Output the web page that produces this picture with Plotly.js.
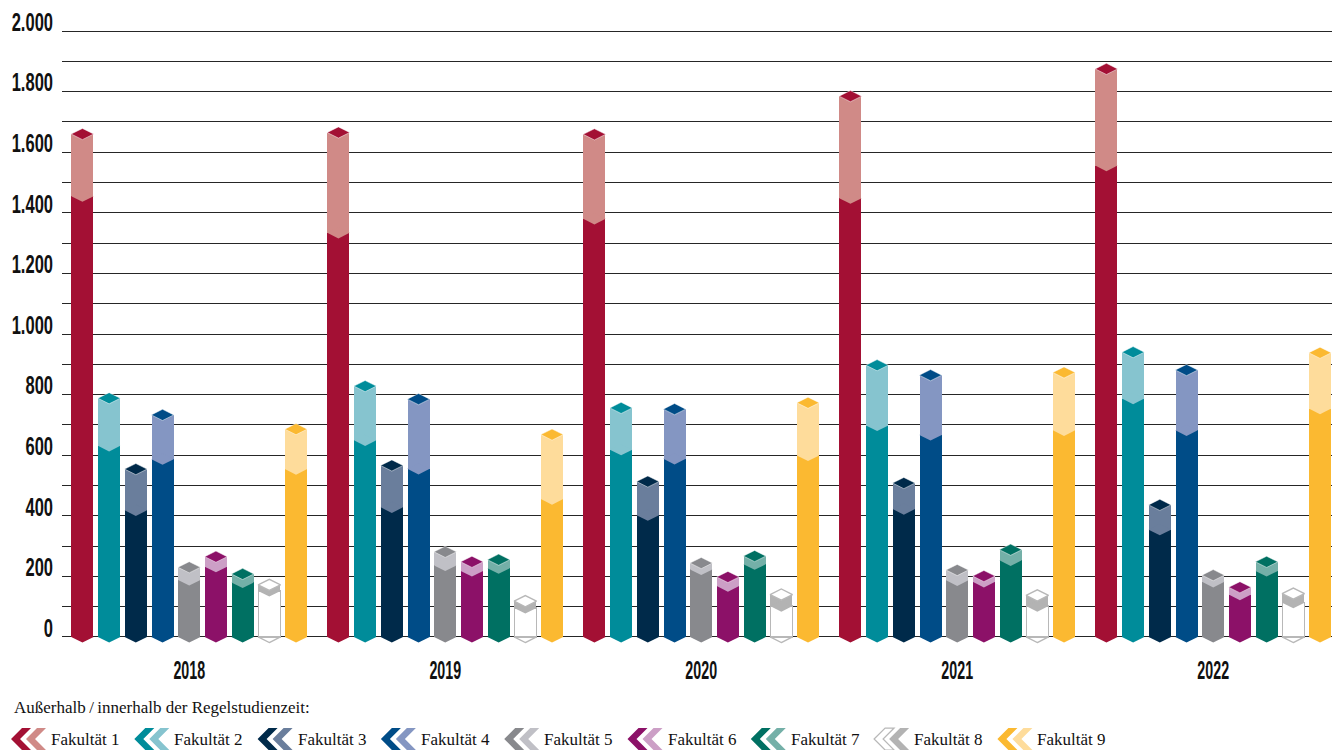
<!DOCTYPE html>
<html>
<head>
<meta charset="utf-8">
<script src="https://cdn.plot.ly/plotly-3.0.1.min.js"></script>
<style>
html,body{margin:0;padding:0;background:#fff;}
#chart{width:1332px;height:750px;}
</style>
</head>
<body>
<div id="chart"></div>
<script>
// ---------- data ----------
const years = ['2018', '2019', '2020', '2021', '2022'];
const faculties = ['Fakultät 1', 'Fakultät 2', 'Fakultät 3', 'Fakultät 4', 'Fakultät 5',
                   'Fakultät 6', 'Fakultät 7', 'Fakultät 8', 'Fakultät 9'];

// lower (dark) segment per faculty, 2018..2022
const fak1Lower = [1455, 1334, 1380, 1448, 1556];
const fak2Lower = [631, 649, 618, 698, 787];
const fak3Lower = [418, 428, 402, 422, 354];
const fak4Lower = [587, 555, 588, 667, 682];
const fak5Lower = [188, 236, 223, 187, 182];
const fak6Lower = [232, 218, 168, 182, 140];
const fak7Lower = [180, 227, 240, 253, 218];
const fak8Lower = [152, 96, 102, 102, 113];
const fak9Lower = [554, 455, 599, 682, 754];

// upper (light) segment per faculty, 2018..2022
const fak1Upper = [205, 331, 279, 337, 319];
const fak2Upper = [157, 179, 138, 199, 153];
const fak3Upper = [136, 138, 111, 86, 82];
const fak4Upper = [146, 230, 164, 197, 199];
const fak5Upper = [42, 45, 21, 34, 22];
const fak6Upper = [33, 30, 30, 19, 24];
const fak7Upper = [28, 28, 27, 35, 30];
const fak8Upper = [20, 22, 38, 35, 30];
const fak9Upper = [132, 213, 174, 191, 184];

const yTickValues = [0, 100, 200, 300, 400, 500, 600, 700, 800, 900, 1000,
                     1100, 1200, 1300, 1400, 1500, 1600, 1700, 1800, 1900, 2000];
const yTickLabels = ['0', '', '200', '', '400', '', '600', '', '800', '', '1.000',
                     '', '1.200', '', '1.400', '', '1.600', '', '1.800', '', '2.000'];
const legendHeading = 'Außerhalb\u2009/\u2009innerhalb der Regelstudienzeit:';

// ---------- styles ----------
const lowerSegs = [fak1Lower, fak2Lower, fak3Lower, fak4Lower, fak5Lower, fak6Lower, fak7Lower, fak8Lower, fak9Lower];
const upperSegs = [fak1Upper, fak2Upper, fak3Upper, fak4Upper, fak5Upper, fak6Upper, fak7Upper, fak8Upper, fak9Upper];
const darkColors  = ['#a31034', '#008c9a', '#002a4a', '#004c87', '#88898d', '#8c1168', '#007062', '#ffffff', '#fbb931'];
const lightColors = ['#d08a87', '#86c4cf', '#6a7e9c', '#8496c2', '#c0c0c6', '#cc9fc6', '#74b0a8', '#b3b3b3', '#fedc9b'];
const OUTLINE = '#b8b8b8';
const OUTLINED = 7; // index of faculty drawn as white with outline

const W = 1332, H = 750, ML = 62, MR = 0, MT = 27.97, MB = 110.47;
const plotW = W - ML - MR, plotH = H - MT - MB;
const Y0 = -10, Y1 = 2010;
const SLOT = 0.1043, BARW = 0.086, DIA = 16;
const AXFONT = '"Liberation Sans", Arial, sans-serif';
const SERIF = '"Liberation Serif", "DejaVu Serif", serif';

const px2x = p => (p - ML) / plotW;
const px2y = p => (H - MB - p) / plotH;

const bars = [], bottoms = [], joints = [], caps = [];
faculties.forEach((name, f) => {
  const xs = years.map((_, i) => i + (f - 4) * SLOT);
  const lower = lowerSegs[f], upper = upperSegs[f];
  const tot = lower.map((v, i) => v + upper[i]);
  const outlined = f === OUTLINED;
  bars.push({
    type: 'bar', x: xs, y: lower, width: BARW, yaxis: 'y2', name: name,
    marker: {color: darkColors[f], line: {width: outlined ? 1.4 : 0, color: OUTLINE}},
    hoverinfo: 'skip', showlegend: false
  });
  bars.push({
    type: 'bar', x: xs, y: upper, width: BARW, yaxis: 'y2', name: name,
    marker: {color: lightColors[f], line: {width: 0}},
    hoverinfo: 'skip', showlegend: false
  });
  bottoms.push({
    type: 'scatter', mode: 'markers', x: xs, y: years.map(() => 0), yaxis: 'y', cliponaxis: false,
    marker: {symbol: 'diamond-wide', size: DIA, color: darkColors[f],
             line: {width: outlined ? 1.4 : 0, color: OUTLINE}},
    hoverinfo: 'skip', showlegend: false
  });
  joints.push({
    type: 'scatter', mode: 'markers', x: xs, y: lower, yaxis: 'y2', cliponaxis: false,
    marker: {symbol: 'diamond-wide', size: DIA, color: lightColors[f], line: {width: 0}},
    hoverinfo: 'skip', showlegend: false
  });
  caps.push({
    type: 'scatter', mode: 'markers', x: xs, y: tot, yaxis: 'y2', cliponaxis: false,
    marker: {symbol: 'diamond-wide', size: DIA, color: darkColors[f],
             line: {width: outlined ? 1.4 : 0.8, color: outlined ? OUTLINE : 'rgba(255,255,255,0.6)'}},
    hoverinfo: 'skip', showlegend: false
  });
});

// ---------- legend (custom) ----------
const shapes = [], annotations = [];
annotations.push({
  xref: 'paper', yref: 'paper', x: px2x(12), y: px2y(707), xanchor: 'left', yanchor: 'middle',
  text: legendHeading, showarrow: false, font: {family: SERIF, size: 17, color: '#111'}
});
const chev = dx => `M${dx},0 L${dx + 11},11 L${dx + 20},11 L${dx + 9},0 L${dx + 20},-11 L${dx + 11},-11 Z`;
faculties.forEach((name, f) => {
  const tip = 11 + f * 123.3;
  const outlined = f === OUTLINED;
  shapes.push({
    type: 'path', xref: 'paper', yref: 'paper', xsizemode: 'pixel', ysizemode: 'pixel',
    xanchor: px2x(tip), yanchor: px2y(738.5), path: chev(0),
    fillcolor: darkColors[f], line: {width: outlined ? 1.2 : 0, color: OUTLINE}
  });
  shapes.push({
    type: 'path', xref: 'paper', yref: 'paper', xsizemode: 'pixel', ysizemode: 'pixel',
    xanchor: px2x(tip), yanchor: px2y(738.5), path: chev(15),
    fillcolor: lightColors[f], line: {width: 0}
  });
  annotations.push({
    xref: 'paper', yref: 'paper', x: px2x(tip + 38), y: px2y(738.5), xanchor: 'left', yanchor: 'middle',
    text: name, showarrow: false, font: {family: SERIF, size: 17, color: '#111'}
  });
});

const layout = {
  width: W, height: H,
  margin: {l: ML, r: MR, t: MT, b: MB, pad: 0},
  paper_bgcolor: '#ffffff', plot_bgcolor: '#ffffff',
  barmode: 'stack',
  showlegend: false,
  xaxis: {
    range: [-0.497, 4.464], tickmode: 'array', tickvals: years.map((_, i) => i), ticktext: years,
    showgrid: false, zeroline: false, showline: false, ticks: '',
    tickfont: {family: AXFONT, size: 25, color: '#111', weight: 'bold'}, ticklabelstandoff: 13, fixedrange: true
  },
  yaxis: {
    range: [Y0, Y1], tickmode: 'array', tickvals: yTickValues, ticktext: yTickLabels,
    showgrid: true, gridcolor: '#262626', gridwidth: 1, zeroline: false, showline: false, ticks: '',
    tickfont: {family: AXFONT, size: 25, color: '#111', weight: 'bold'}, ticklabelstandoff: 8, ticklabelshift: -9,
    fixedrange: true
  },
  yaxis2: {range: [Y0, Y1], overlaying: 'y', visible: false, showgrid: false, zeroline: false, fixedrange: true},
  shapes: shapes,
  annotations: annotations
};

// condense axis labels (no condensed face is installed)
function condense(selector, factor) {
  document.querySelectorAll(selector).forEach(t => {
    const w = t.getComputedTextLength();
    if (w > 0) {
      t.setAttribute('textLength', (w * factor).toFixed(1));
      t.setAttribute('lengthAdjust', 'spacingAndGlyphs');
    }
  });
}

Plotly.newPlot('chart', bottoms.concat(bars, joints, caps), layout, {displayModeBar: false, staticPlot: true})
  .then(() => {
    condense('.ytick text', 0.66);
    condense('.xtick text', 0.57);
  });
</script>
</body>
</html>
